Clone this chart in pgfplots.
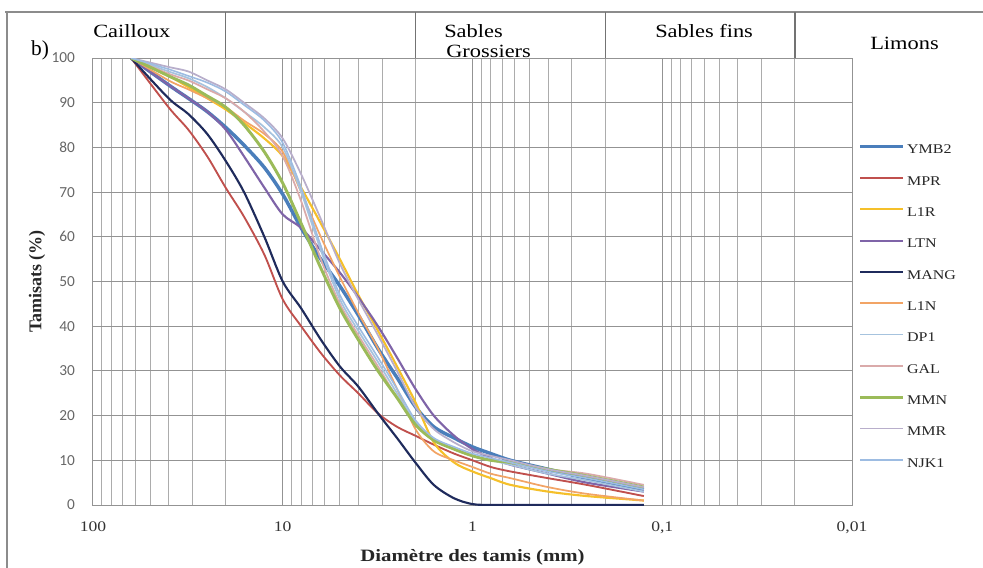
\documentclass[border=0pt]{standalone}
\usepackage{fontspec}
\setmainfont{Liberation Serif}[FakeStretch=1.2]
\newfontfamily\plainserif{Liberation Serif}
\newfontfamily\carlito{Carlito}
\usepackage{pgfplots}
\usepackage{pgfplotstable}
\pgfplotsset{compat=1.18}

\definecolor{cYMB}{HTML}{4A7EBB}
\definecolor{cMPR}{HTML}{C0504D}
\definecolor{cLIR}{HTML}{F5C02A}
\definecolor{cLTN}{HTML}{7F64A8}
\definecolor{cMANG}{HTML}{1F2B5C}
\definecolor{cLIN}{HTML}{F2A465}
\definecolor{cDP}{HTML}{A6C3DE}
\definecolor{cGAL}{HTML}{DAAAAA}
\definecolor{cMMN}{HTML}{9BBB59}
\definecolor{cMMR}{HTML}{B8AECB}
\definecolor{cNJK}{HTML}{9DBCE2}

% passants cumules (%) par tamis (mm)
\pgfplotstableread{
d     YMB2  MPR   L1R   LTN   MANG  L1N   DP1   GAL   MMN   MMR   NJK1
63    100   100   100   100   100   100   100   100   100   100   100
40    94    89    96    94    91    95    97    96.5  96    98    97.5
31.5  91    84    93.5  91    87.5  93    95.5  95    94    97    96
25    88    78    91    88    83    91    93.5  93    91.5  95    94.5
20    84.5  71    88.5  84    77    89    91    91    89    93    92.5
16    80.5  64.5  85.5  78    70    86    88    88    85    90    89.5
12.5  75.5  56    82    71    60    83    84.5  83.5  79    86.5  86
10    69.5  46    78    65    50    79    80    78    72    82    81
8     62    40    71    62    44    70    70    68    63    74    71
6.3   55    34    63    57    37    60    57    55    53    64    58
5     49    29    55    52    31    51    46    45    44    54    47
4     42.5  25    47    46.5  26.5  43    39    38    37    46    40
3.15  35    20.5  39    40    20.5  35    32    31    30    38    33
2.5   28.5  17.5  31    33    15    26    25    24    24    30    26
2     22    15.5  23    26    9.5   17    18.5  18    18    22    19
1.6   17.5  13.5  14    20    4.5   12    14.5  14.5  14.5  17    15
1.25  15    11.5  9.5   15.5  1.5   10    12.5  12.5  12.5  14    13
1     13    10    7.5   12.5  0.2   8.5   11    11    11    12    11.5
0.8   11.5  8.5   6     10.5  0     7     10    10    10    11    10.5
0.63  10    7.5   4.5   9     0     6     9     9.5   9.5   10    9.5
0.4   8     6     3     7     0     4     7     8     8     8     7.5
0.25  6     4.5   2     5     0     2.5   5.5   7     6.5   6.5   6
0.125 3.5   2     1     3     0     1     3     4.5   4     4     3.5
}\tamis

\begin{document}
\begin{tikzpicture}
\path[use as bounding box] (0,0) rectangle (737.25pt,-426pt);
\begin{axis}[
    at={(69.75pt,-378.75pt)}, anchor=south west,
    scale only axis, width=569.25pt, height=335.25pt,
    xmode=log, x dir=reverse, xmin=0.01, xmax=100,
    ymin=0, ymax=100,
    xtick={100,10,1,0.1,0.01},
    xticklabels={100,10,1,{0,1},{0,01}},
    minor xtick={20,30,40,50,60,70,80,90,2,3,4,5,6,7,8,9,0.2,0.3,0.4,0.5,0.6,0.7,0.8,0.9,0.02,0.03,0.04,0.05,0.06,0.07,0.08,0.09},
    ytick={0,10,...,100},
    grid=both,
    major grid style={draw=gray!85, line width=0.75pt},
    minor grid style={draw=gray!65, line width=0.6pt},
    axis line style={draw=gray!85, line width=0.75pt},
    major tick length=0pt, minor tick length=0pt,
    /pgf/number format/assume math mode=true,
    yticklabel style={font=\carlito\fontsize{11.5}{12}\selectfont, text=black!60, xshift=-10pt},
    xticklabel style={font=\fontsize{11}{12}\selectfont, text=black!80, yshift=-9pt},
    xlabel={\textbf{Diamètre des tamis (mm)}},
    xlabel style={at={(axis description cs:0.5,-0.1163)}, anchor=center, font=\fontsize{13}{14}\selectfont, text=black!85},
    ylabel={\textbf{Tamisats (\%)}},
    ylabel style={at={(axis description cs:-0.0738,0.5)}, anchor=center, font=\plainserif\fontsize{13.5}{14}\selectfont, text=black!85},
    legend style={at={(axis description cs:1.0027,0.8128)}, anchor=north west,
        draw=none, fill=none, font=\fontsize{10}{11}\selectfont, text=black!85,
        row sep=14.5pt, column sep=2pt,
        nodes={inner sep=0pt, text height=7pt, text depth=2pt}},
    legend cell align=left,
    legend image code/.code={\draw[#1] (0pt,3pt) -- (32pt,3pt);},
]
\addplot[cYMB, line width=2.6pt, smooth] table[x=d, y=YMB2] {\tamis};
\addplot[cMPR, line width=1.4pt, smooth] table[x=d, y=MPR] {\tamis};
\addplot[cLIR, line width=1.6pt, smooth] table[x=d, y=L1R] {\tamis};
\addplot[cLTN, line width=1.6pt, smooth] table[x=d, y=LTN] {\tamis};
\addplot[cMANG, line width=1.6pt, smooth] table[x=d, y=MANG] {\tamis};
\addplot[cLIN, line width=1.3pt, smooth] table[x=d, y=L1N] {\tamis};
\addplot[cDP, line width=1.3pt, smooth] table[x=d, y=DP1] {\tamis};
\addplot[cGAL, line width=1.3pt, smooth] table[x=d, y=GAL] {\tamis};
\addplot[cMMN, line width=2.2pt, smooth] table[x=d, y=MMN] {\tamis};
\addplot[cMMR, line width=1.3pt, smooth] table[x=d, y=MMR] {\tamis};
\addplot[cNJK, line width=1.2pt, smooth] table[x=d, y=NJK1] {\tamis};
\legend{YMB2,MPR,L1R,LTN,MANG,L1N,DP1,GAL,MMN,MMR,NJK1}
\end{axis}
\begin{scope}[x=0.75pt, y=-0.75pt]
  \draw[gray!90, line width=1.6pt] (5,12) -- (983,12);
  \draw[gray!90, line width=1pt] (7,12) -- (7,568);
  \foreach \xx in {225.6,415.4,605.1,795}
    \draw[gray!90!black, line width=0.9pt] (\xx,12) -- (\xx,58);
  \begin{scope}[every node/.style={anchor=west, inner sep=0pt, text=black, font=\fontsize{14}{14}\selectfont}]
    \node at (93,31) {Cailloux};
    \node at (444,31) {Sables};
    \node at (446,51) {Grossiers};
    \node at (655,31) {Sables fins};
    \node at (870,43) {Limons};
  \end{scope}
  \node[inner sep=0pt, font=\plainserif\fontsize{16}{16}\selectfont] at (40,50) {b)};
\end{scope}
\end{tikzpicture}
\end{document}
